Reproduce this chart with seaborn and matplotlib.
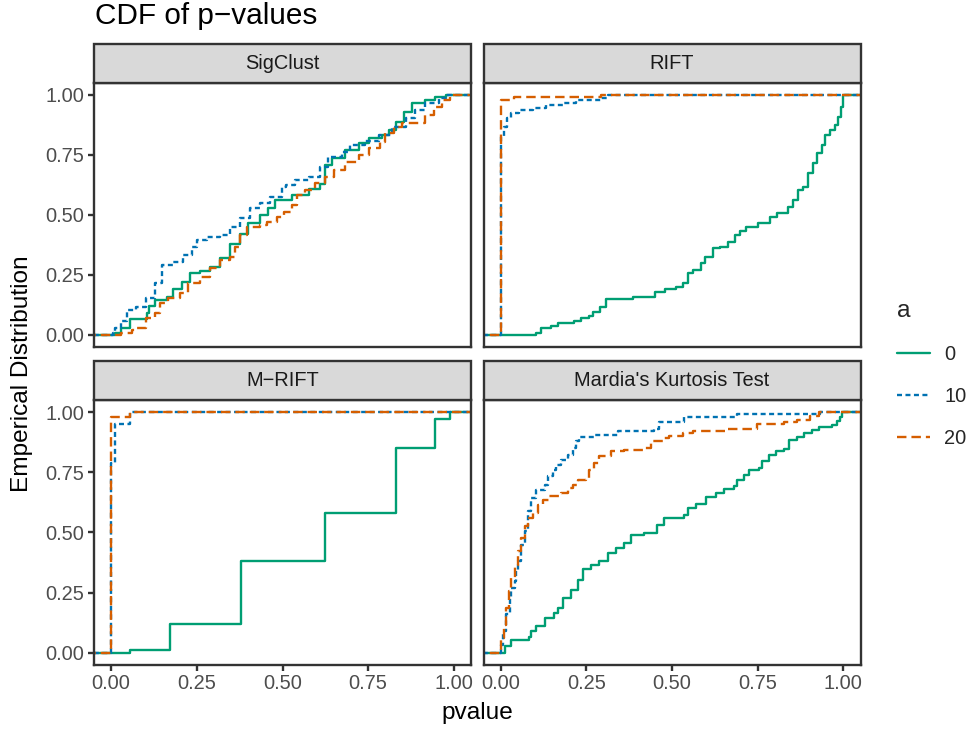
import numpy as np
import pandas as pd
import matplotlib
matplotlib.use("Agg")
import matplotlib.pyplot as plt
import seaborn as sns
from matplotlib.patches import Rectangle
from matplotlib.lines import Line2D

# ---------------- data ----------------
panels = ["SigClust", "RIFT", "M\u2212RIFT", "Mardia's Kurtosis Test"]
a_levels = ["0", "10", "20"]

# each series: sorted p-values and the ECDF level reached at that p-value
sig_a0_p = [0.011, 0.030, 0.055, 0.105, 0.110, 0.128, 0.162, 0.181, 0.206, 0.230, 0.259, 0.289,
            0.318, 0.347, 0.376, 0.400, 0.435, 0.459, 0.479, 0.527, 0.576, 0.610, 0.625, 0.644,
            0.683, 0.722, 0.751, 0.790, 0.810, 0.830, 0.854, 0.878, 0.917, 0.946, 0.976]
sig_a0_F = [0.01, 0.03, 0.065, 0.09, 0.12, 0.146, 0.16, 0.19, 0.22, 0.257, 0.265, 0.285,
            0.32, 0.38, 0.42, 0.465, 0.50, 0.528, 0.5625, 0.583, 0.61, 0.63, 0.708, 0.736,
            0.77, 0.80, 0.82, 0.833, 0.854, 0.889, 0.93, 0.965, 0.98, 0.99, 1.0]
sig_a10_p = [0.005, 0.011, 0.030, 0.045, 0.074, 0.103, 0.128, 0.147, 0.181, 0.210, 0.235, 0.250,
             0.279, 0.318, 0.347, 0.376, 0.406, 0.435, 0.464, 0.498, 0.510, 0.537, 0.576, 0.610,
             0.634, 0.673, 0.698, 0.742, 0.781, 0.820, 0.859, 0.888, 0.917, 0.956, 0.976]
sig_a10_F = [0.01, 0.03, 0.06, 0.104, 0.118, 0.153, 0.215, 0.29, 0.305, 0.333, 0.368, 0.396,
             0.41, 0.417, 0.451, 0.486, 0.528, 0.549, 0.576, 0.618, 0.625, 0.646, 0.66, 0.701,
             0.74, 0.764, 0.79, 0.81, 0.833, 0.868, 0.903, 0.9375, 0.965, 0.986, 1.0]
sig_a20_p = [0.030, 0.060, 0.074, 0.103, 0.128, 0.142, 0.167, 0.200, 0.225, 0.259, 0.289, 0.318,
             0.347, 0.362, 0.376, 0.396, 0.435, 0.454, 0.483, 0.503, 0.527, 0.542, 0.566, 0.596,
             0.625, 0.649, 0.683, 0.722, 0.751, 0.785, 0.800, 0.825, 0.849, 0.917, 0.942, 0.966, 0.990]
sig_a20_F = [0.01, 0.02, 0.03, 0.07, 0.09, 0.132, 0.153, 0.174, 0.215, 0.243, 0.278, 0.3125,
             0.326, 0.368, 0.417, 0.451, 0.458, 0.472, 0.493, 0.514, 0.54, 0.583, 0.604, 0.632,
             0.66, 0.6875, 0.722, 0.75, 0.778, 0.806, 0.84, 0.868, 0.882, 0.917, 0.951, 0.98, 1.0]

rift_a0_p = [0.103, 0.118, 0.147, 0.167, 0.215, 0.235, 0.259, 0.269, 0.289, 0.308, 0.386, 0.449,
             0.479, 0.513, 0.532, 0.547, 0.561, 0.586, 0.596, 0.620, 0.639, 0.664, 0.683, 0.698,
             0.717, 0.751, 0.786, 0.805, 0.839, 0.854, 0.868, 0.883, 0.898, 0.912, 0.922, 0.937,
             0.946, 0.961, 0.976, 0.985, 0.992, 0.998]
rift_a0_F = [0.01, 0.028, 0.0375, 0.049, 0.06, 0.069, 0.079, 0.097, 0.118, 0.149, 0.157, 0.18,
             0.19, 0.199, 0.218, 0.257, 0.271, 0.299, 0.326, 0.361, 0.368, 0.389, 0.417, 0.435,
             0.449, 0.468, 0.49, 0.51, 0.535, 0.5625, 0.604, 0.618, 0.674, 0.715, 0.757, 0.79,
             0.833, 0.854, 0.875, 0.91, 0.951, 1.0]
rift_a10_p = [0.000, 0.001, 0.011, 0.020, 0.030, 0.055, 0.094, 0.133, 0.181, 0.220, 0.293, 0.313]
rift_a10_F = [0.79, 0.826, 0.868, 0.903, 0.924, 0.9375, 0.944, 0.958, 0.968, 0.979, 0.986, 1.0]
rift_a20_p = [0.000, 0.040, 0.293]
rift_a20_F = [0.98, 0.99, 1.0]

mrift_a0_p = [0.055, 0.172, 0.378, 0.624, 0.830, 0.945, 0.990]
mrift_a0_F = [0.01, 0.12, 0.38, 0.58, 0.85, 0.97, 1.0]
mrift_a10_p = [0.000, 0.010, 0.055]
mrift_a10_F = [0.79, 0.95, 1.0]
mrift_a20_p = [0.000, 0.055]
mrift_a20_F = [0.98, 1.0]

mk_a0_p = [0.012, 0.031, 0.084, 0.090, 0.104, 0.128, 0.157, 0.167, 0.181, 0.206, 0.225, 0.239,
           0.264, 0.288, 0.312, 0.336, 0.360, 0.380, 0.419, 0.457, 0.477, 0.536, 0.546, 0.570,
           0.599, 0.628, 0.652, 0.681, 0.691, 0.710, 0.725, 0.754, 0.764, 0.783, 0.802, 0.826,
           0.841, 0.865, 0.885, 0.909, 0.928, 0.967, 0.980, 0.990, 0.996]
mk_a0_F = [0.028, 0.051, 0.065, 0.09, 0.11, 0.145, 0.166, 0.187, 0.228, 0.259, 0.304, 0.346,
           0.366, 0.383, 0.415, 0.436, 0.456, 0.491, 0.498, 0.532, 0.56, 0.574, 0.60, 0.618,
           0.646, 0.664, 0.682, 0.692, 0.719, 0.74, 0.761, 0.768, 0.795, 0.823, 0.837, 0.845,
           0.885, 0.895, 0.913, 0.927, 0.936, 0.947, 0.961, 0.98, 1.0]
mk_a10_p = [0.002, 0.006, 0.017, 0.026, 0.031, 0.041, 0.046, 0.050, 0.060, 0.070, 0.079, 0.089,
            0.104, 0.128, 0.138, 0.152, 0.162, 0.176, 0.196, 0.210, 0.220, 0.230, 0.273, 0.341,
            0.448, 0.462, 0.536, 0.691, 0.933]
mk_a10_F = [0.03, 0.09, 0.159, 0.228, 0.27, 0.297, 0.339, 0.38, 0.449, 0.505, 0.588, 0.643,
            0.678, 0.698, 0.733, 0.761, 0.781, 0.802, 0.823, 0.851, 0.878, 0.895, 0.906, 0.92,
            0.93, 0.958, 0.979, 0.992, 1.0]
mk_a20_p = [0.002, 0.010, 0.017, 0.023, 0.031, 0.041, 0.050, 0.060, 0.070, 0.079, 0.094, 0.108,
            0.123, 0.142, 0.176, 0.196, 0.210, 0.225, 0.249, 0.259, 0.273, 0.288, 0.322, 0.360,
            0.419, 0.438, 0.477, 0.492, 0.531, 0.560, 0.662, 0.749, 0.826, 0.865, 0.904, 0.928]
mk_a20_F = [0.062, 0.117, 0.187, 0.256, 0.311, 0.366, 0.422, 0.477, 0.526, 0.56, 0.581, 0.615,
            0.636, 0.65, 0.664, 0.685, 0.698, 0.719, 0.726, 0.761, 0.788, 0.816, 0.837, 0.844,
            0.851, 0.878, 0.892, 0.899, 0.913, 0.92, 0.929, 0.95, 0.958, 0.968, 0.982, 1.0]

series = {
    ("SigClust", "0"): (sig_a0_p, sig_a0_F),
    ("SigClust", "10"): (sig_a10_p, sig_a10_F),
    ("SigClust", "20"): (sig_a20_p, sig_a20_F),
    ("RIFT", "0"): (rift_a0_p, rift_a0_F),
    ("RIFT", "10"): (rift_a10_p, rift_a10_F),
    ("RIFT", "20"): (rift_a20_p, rift_a20_F),
    ("M\u2212RIFT", "0"): (mrift_a0_p, mrift_a0_F),
    ("M\u2212RIFT", "10"): (mrift_a10_p, mrift_a10_F),
    ("M\u2212RIFT", "20"): (mrift_a20_p, mrift_a20_F),
    ("Mardia's Kurtosis Test", "0"): (mk_a0_p, mk_a0_F),
    ("Mardia's Kurtosis Test", "10"): (mk_a10_p, mk_a10_F),
    ("Mardia's Kurtosis Test", "20"): (mk_a20_p, mk_a20_F),
}

rows = []
for (panel, a), (p, F) in series.items():
    w = np.diff(np.r_[0.0, np.asarray(F)])
    for pv, wv in zip(p, w):
        rows.append({"method": panel, "a": a, "pvalue": pv, "w": wv})
df = pd.DataFrame(rows)

# ---------------- style ----------------
sns.set_theme(style="white")
plt.rcParams["font.family"] = ["Liberation Sans", "DejaVu Sans"]
plt.rcParams["lines.scale_dashes"] = False

colors = {"0": "#009E73", "10": "#0072B2", "20": "#D55E00"}
styles = {"0": "-", "10": (0, (3.6, 2.5)), "20": (0, (6.8, 3.6))}
LW = 1.7
BORDER = "#333333"
TICK_FS = 14.4
AXT_FS = 17.6

W, H = 976, 730
fig = plt.figure(figsize=(W / 100, H / 100), dpi=100)

def fx(px):
    return px / W

def fy(py):
    return 1 - py / H

cols_x = [94, 483.5]
pw = 377
rows_y = [(83, 347), (400, 664.7)]
strip_h_px = 39

axes = []
for i, panel in enumerate(panels):
    r, c = divmod(i, 2)
    top, bot = rows_y[r]
    ax = fig.add_axes([fx(cols_x[c]), fy(bot), pw / W, (bot - top) / H])
    axes.append(ax)
    sub = df[df["method"] == panel]
    for a in a_levels:
        d = sub[sub["a"] == a]
        sns.ecdfplot(data=d, x="pvalue", weights="w", ax=ax, color=colors[a],
                     linestyle=styles[a], linewidth=LW)
        line = ax.lines[-1]
        xd = np.asarray(line.get_xdata(), float)
        yd = np.asarray(line.get_ydata(), float)
        m = np.isfinite(xd)
        line.set_data(np.r_[-0.2, xd[m], 1.2], np.r_[0.0, yd[m], 1.0])
    ax.set_xlim(-0.05, 1.05)
    ax.set_ylim(-0.05, 1.05)
    ax.set_xlabel("")
    ax.set_ylabel("")
    ax.set_xticks([0, 0.25, 0.5, 0.75, 1.0])
    ax.set_yticks([0, 0.25, 0.5, 0.75, 1.0])
    ax.set_xticklabels(["0.00", "0.25", "0.50", "0.75", "1.00"])
    ax.set_yticklabels(["0.00", "0.25", "0.50", "0.75", "1.00"])
    for s in ax.spines.values():
        s.set_color(BORDER)
        s.set_linewidth(1.7)
        s.set_visible(True)
    ax.tick_params(direction="out", length=4.4, width=1.7, color=BORDER,
                   labelcolor="#4D4D4D", labelsize=TICK_FS, pad=2.5)
    if r == 0:
        ax.tick_params(axis="x", bottom=False, labelbottom=False)
    else:
        ax.tick_params(axis="x", bottom=True, labelbottom=True)
    if c == 1:
        ax.tick_params(axis="y", left=False, labelleft=False)
    else:
        ax.tick_params(axis="y", left=True, labelleft=True)
    sh = strip_h_px / (bot - top)
    ax.add_patch(Rectangle((0, 1), 1, sh, transform=ax.transAxes, clip_on=False,
                           facecolor="#D9D9D9", edgecolor=BORDER, linewidth=1.7, zorder=5))
    ax.text(0.5, 1 + sh / 2, panel, transform=ax.transAxes, ha="center", va="center",
            fontsize=TICK_FS, color="#1A1A1A", zorder=6)

fig.text(fx(95), fy(16), "CDF of p\u2212values", ha="left", va="center", fontsize=21.4,
         color="black")
fig.text(fx(477), fy(713), "pvalue", ha="center", va="center", fontsize=AXT_FS, color="black")
fig.text(fx(22), fy(374), "Emperical Distribution", ha="center", va="center",
         rotation=90, fontsize=AXT_FS, color="black")

handles = [Line2D([0], [0], color=colors[a], linestyle=styles[a], linewidth=LW) for a in a_levels]
leg = fig.legend(handles, a_levels, title="a", loc="upper left",
                 bbox_to_anchor=(fx(897), fy(300)), frameon=False, fontsize=TICK_FS,
                 title_fontsize=AXT_FS, handlelength=1.65, handletextpad=0.7,
                 labelspacing=1.15, borderaxespad=0, borderpad=0)
leg._legend_box.align = "left"

fig.savefig("out.png", dpi=100)
